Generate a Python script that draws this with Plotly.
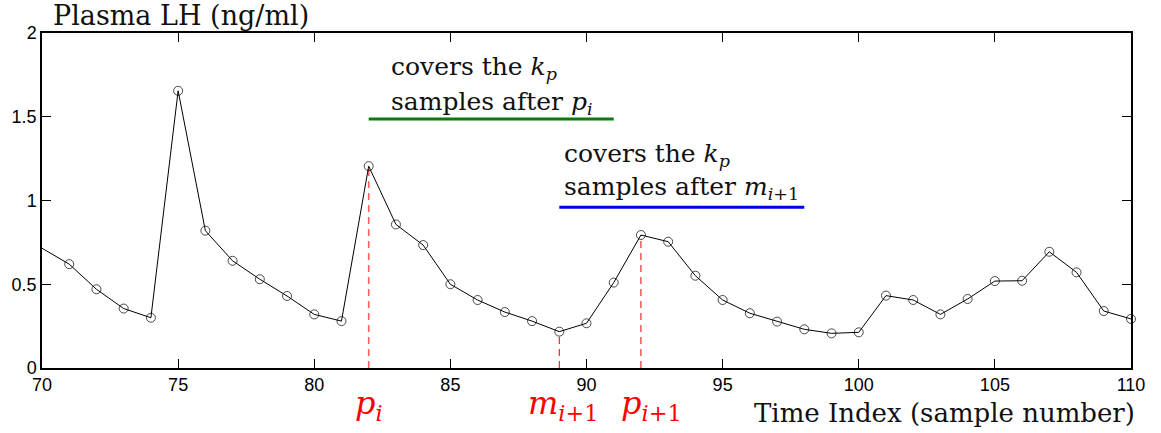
import plotly.graph_objects as go

# ---- data ----
time_index = list(range(70, 111))
lh_values = [0.715, 0.62, 0.47, 0.355, 0.30, 1.655, 0.82, 0.64, 0.53, 0.43, 0.32, 0.28,
             1.205, 0.857, 0.734, 0.50, 0.406, 0.334, 0.28, 0.217, 0.267, 0.51, 0.794,
             0.754, 0.551, 0.406, 0.327, 0.277, 0.231, 0.207, 0.213, 0.432, 0.406, 0.32,
             0.412, 0.519, 0.521, 0.694, 0.571, 0.34, 0.293]
p_i = 82
m_next = 89
p_next = 92
kp = 9
x_ticks = [70, 75, 80, 85, 90, 95, 100, 105, 110]
y_ticks = [0, 0.5, 1, 1.5, 2]
y_tick_text = ["0", "0.5", "1", "1.5", "2"]

serif = "DejaVu Serif"
sans = "Liberation Sans"

fig = go.Figure()

def val_at(x):
    return lh_values[time_index.index(x)]

# vertical dashed markers
fig.add_trace(go.Scatter(x=[p_i, p_i], y=[0, val_at(p_i)], mode="lines",
                         line=dict(color="#ff5c5c", width=1.6, dash="7px,5px"),
                         showlegend=False, hoverinfo="skip"))
for xv in (m_next, p_next):
    fig.add_trace(go.Scatter(x=[xv, xv], y=[0, val_at(xv)], mode="lines",
                             line=dict(color="#e00000", width=1, dash="7px,5px"),
                             showlegend=False, hoverinfo="skip"))

# main series
fig.add_trace(go.Scatter(
    x=time_index, y=lh_values, mode="lines+markers",
    line=dict(color="black", width=1),
    marker=dict(symbol="circle-open", color="black", line=dict(width=1),
                size=[0] + [9] * (len(time_index) - 1)),
    cliponaxis=False, showlegend=False))

# k_p coverage bars
fig.add_trace(go.Scatter(x=[p_i, p_i + kp], y=[1.487, 1.487], mode="lines",
                         line=dict(color="#0a7a0a", width=3), showlegend=False))
fig.add_trace(go.Scatter(x=[m_next, m_next + kp], y=[0.96, 0.96], mode="lines",
                         line=dict(color="#0000ee", width=3), showlegend=False))

ann = []
def txt(x, y, text, size=25, color="#111", xanchor="left", xref="x", yref="paper", **kw):
    ann.append(dict(x=x, y=y, xref=xref, yref=yref, text=text, showarrow=False,
                    xanchor=xanchor, yanchor="middle",
                    font=dict(family=serif, size=size, color=color), **kw))

txt(82.75, 1.79, "covers the <i>k</i><sub><i>p</i></sub>", yref="y")
txt(82.75, 1.58, "samples after <i>p</i><sub><i>i</i></sub>", yref="y")
txt(89.1, 1.27, "covers the <i>k</i><sub><i>p</i></sub>", yref="y")
txt(89.1, 1.075, "samples after <i>m</i><sub><i>i</i>+1</sub>", yref="y")

txt(p_i, -0.11, "<i>p</i><sub><i>i</i></sub>", size=32, color="red", xanchor="center")
txt(m_next + 0.15, -0.11, "<i>m</i><sub><i>i</i>+1</sub>", size=32, color="red", xanchor="center")
txt(p_next + 0.4, -0.11, "<i>p</i><sub><i>i</i>+1</sub>", size=32, color="red", xanchor="center")

txt(1.0, -0.134, "Time Index (sample number)", size=26, xref="paper", xanchor="right", xshift=6)
txt(0.0, 1.052, "Plasma LH (ng/ml)", size=27, xref="paper", xshift=9)

fig.update_layout(
    width=1161, height=433,
    margin=dict(l=38, r=30, t=33, b=65),
    plot_bgcolor="white", paper_bgcolor="white",
    annotations=ann,
    xaxis=dict(range=[70, 110], tickvals=x_ticks, ticks="inside", ticklen=9,
               tickwidth=1, tickcolor="black", showline=True, linecolor="black",
               linewidth=1.5, mirror="ticks", showgrid=False, zeroline=False,
               tickfont=dict(family=sans, size=18, color="black")),
    yaxis=dict(range=[0, 2], tickvals=y_ticks, ticktext=y_tick_text, ticks="inside",
               ticklen=9, tickwidth=1, tickcolor="black", showline=True,
               linecolor="black", linewidth=1.5, mirror="ticks", showgrid=False,
               zeroline=False, tickfont=dict(family=sans, size=18, color="black")),
)

fig.write_html("out.html", config={"displayModeBar": False},
               post_script="document.body.style.margin='0';")
